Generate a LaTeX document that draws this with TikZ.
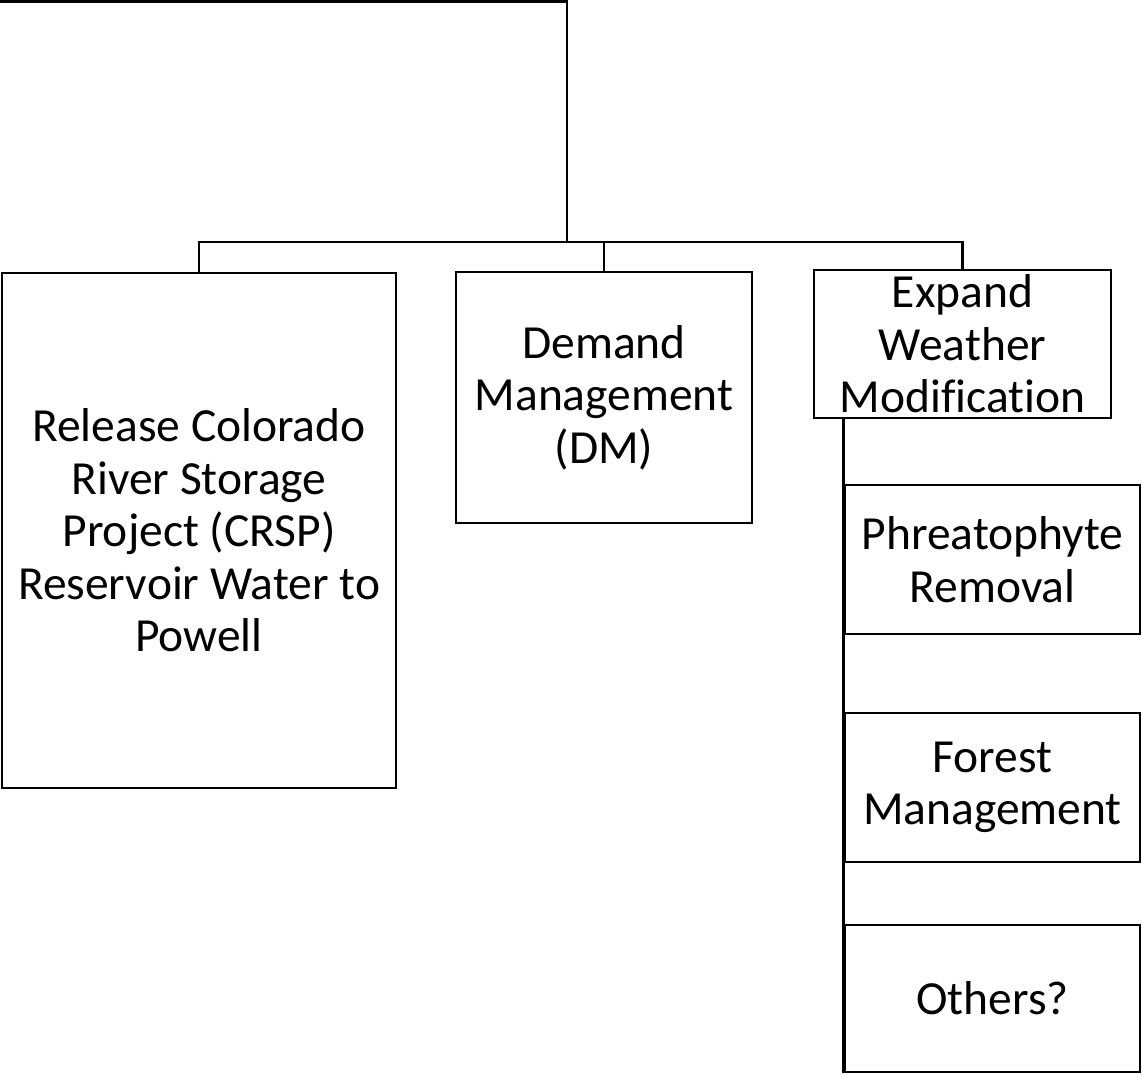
\documentclass[tikz,border=0pt]{standalone}
\usepackage{fontspec}
\setmainfont{Carlito}[Ligatures=CommonOff]
\begin{document}
\begin{tikzpicture}[x=1pt,y=-1pt,
  box/.style={draw=black, line width=2.6pt, rectangle, inner sep=0pt, fill=white},
  txt/.style={inner sep=0pt, align=center, font=\fontsize{47.5}{52.5}\selectfont},
  conn/.style={draw=black, line width=2.6pt}]
\useasboundingbox (0,0) rectangle (1142,1074);
% boxes
\node[box, minimum width=394pt, minimum height=515pt] (crsp) at (199,530.5) {};
\node[box, minimum width=296pt, minimum height=251pt] (dm) at (604,397.5) {};
\node[box, minimum width=297pt, minimum height=148pt] (exp) at (962.5,344) {};
\node[box, minimum width=295pt, minimum height=149pt] (phr) at (992.5,559.5) {};
\node[box, minimum width=295pt, minimum height=149pt] (for) at (992.5,787.5) {};
\node[box, minimum width=295pt, minimum height=147pt] (oth) at (992.5,998.5) {};
% texts
\node[txt] (crspt) at (crsp) {Release Colorado\\River Storage\\Project (CRSP)\\Reservoir Water to\\Powell};
\node[txt] (dmt) at (dm) {Demand\\Management\\(DM)};
\node[txt] (expt) at (exp) {Expand\\Weather\\Modification};
\node[txt] (phrt) at (phr) {Phreatophyte\\Removal};
\node[txt] (fort) at (for) {Forest\\Management};
\node[txt] (otht) at (oth) {Others?};
% connectors
\coordinate (tl) at (0,1.5);
\coordinate (tj) at (567,1.5);
\coordinate (bar) at (567,242);
\draw[conn] (tl) -- (tj) -- (bar);
\draw[conn] (crsp.north) |- (bar) -| (exp.north);
\draw[conn] (dm.north) -- (dm.north |- bar);
\draw[conn] (exp.south -| phr.west) -- (oth.south west);
\end{tikzpicture}
\end{document}
